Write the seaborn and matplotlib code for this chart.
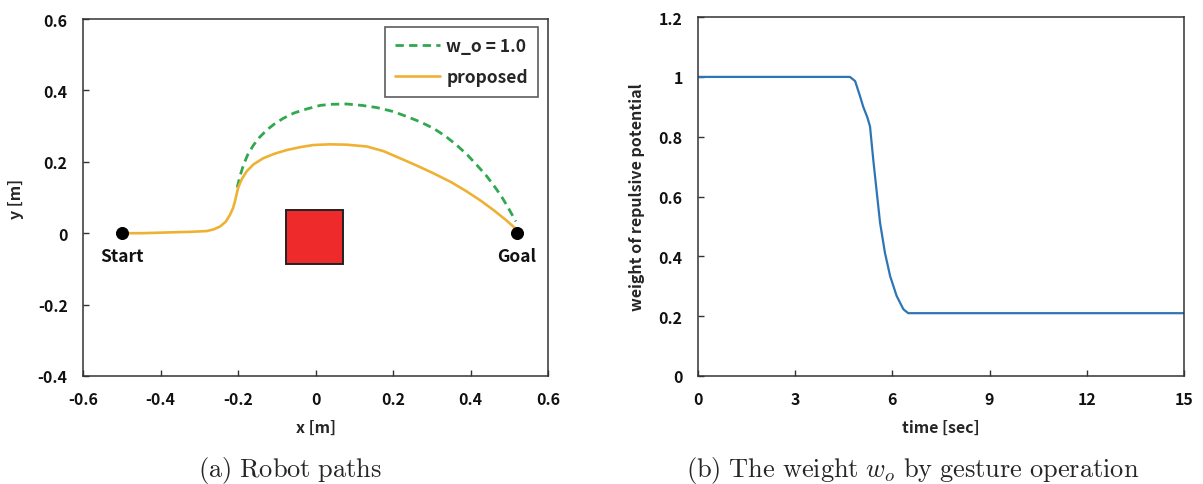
import matplotlib
matplotlib.use("Agg")
import matplotlib.pyplot as plt
import seaborn as sns
import pandas as pd
from matplotlib.patches import Rectangle

# ---------------- data ----------------
prop_x = [-0.50, -0.45, -0.384, -0.32, -0.281, -0.262, -0.246, -0.232, -0.221, -0.213, -0.208, -0.204,
          -0.200, -0.195, -0.190, -0.178, -0.160, -0.135, -0.105, -0.074, -0.040, -0.006, 0.037, 0.080,
          0.132, 0.175, 0.218, 0.260, 0.304, 0.350, 0.390, 0.425, 0.459, 0.490, 0.510, 0.520]
prop_y = [0.000, 0.000, 0.002, 0.004, 0.006, 0.011, 0.019, 0.032, 0.051, 0.070, 0.089, 0.108,
          0.126, 0.140, 0.152, 0.173, 0.193, 0.210, 0.223, 0.233, 0.241, 0.247, 0.249, 0.248,
          0.243, 0.230, 0.210, 0.190, 0.168, 0.143, 0.117, 0.092, 0.065, 0.038, 0.019, 0.008]

wo_x = [-0.202, -0.195, -0.186, -0.175, -0.160, -0.145, -0.126, -0.105, -0.083, -0.055, -0.023, 0.012,
        0.037, 0.080, 0.120, 0.158, 0.200, 0.235, 0.270, 0.304, 0.335, 0.364, 0.392, 0.416,
        0.440, 0.459, 0.478, 0.493, 0.506, 0.517]
wo_y = [0.128, 0.160, 0.191, 0.220, 0.247, 0.268, 0.289, 0.307, 0.322, 0.337, 0.348, 0.358,
        0.361, 0.362, 0.358, 0.352, 0.341, 0.327, 0.312, 0.294, 0.272, 0.247, 0.219, 0.191,
        0.162, 0.135, 0.106, 0.079, 0.054, 0.033]

point_names = ["Start", "Goal"]
point_x = [-0.50, 0.52]
point_y = [0.0, 0.0]

obstacle_x = [-0.075, 0.070]
obstacle_y = [-0.087, 0.065]

time_s = [0, 4.69, 4.85, 5.0, 5.1, 5.23, 5.31, 5.41, 5.52, 5.62, 5.77, 5.93, 6.13, 6.34, 6.49, 15]
weight = [1.0, 1.0, 0.986, 0.936, 0.90, 0.864, 0.834, 0.723, 0.612, 0.512, 0.412, 0.334, 0.268,
          0.223, 0.21, 0.21]

left_xticks = [-0.6, -0.4, -0.2, 0, 0.2, 0.4, 0.6]
left_xlabels = ["-0.6", "-0.4", "-0.2", "0", "0.2", "0.4", "0.6"]
left_yticks = [-0.4, -0.2, 0, 0.2, 0.4, 0.6]
left_ylabels = ["-0.4", "-0.2", "0", "0.2", "0.4", "0.6"]
right_xticks = [0, 3, 6, 9, 12, 15]
right_xlabels = ["0", "3", "6", "9", "12", "15"]
right_yticks = [0, 0.2, 0.4, 0.6, 0.8, 1.0, 1.2]
right_ylabels = ["0", "0.2", "0.4", "0.6", "0.8", "1", "1.2"]

legend_labels = ["w_o = 1.0", "proposed"]

# ---------------- style ----------------
sns.set_style("white")
plt.rcParams["font.family"] = ["Noto Sans CJK JP", "DejaVu Sans"]
plt.rcParams["mathtext.fontset"] = "cm"

FS = 11.5
GREEN = "#2FA84F"
ORANGE = "#EFB134"
BLUE = "#2E75B6"
RED = "#EE2A2A"

fig = plt.figure(figsize=(12.03, 4.85), dpi=100)
ax1 = fig.add_axes([0.0690, 0.2227, 0.3866, 0.7360])
ax2 = fig.add_axes([0.5802, 0.2227, 0.4040, 0.7400])

# ---------------- left panel ----------------
df_wo = pd.DataFrame({"x": wo_x, "y": wo_y})
df_pr = pd.DataFrame({"x": prop_x, "y": prop_y})
sns.lineplot(data=df_wo, x="x", y="y", sort=False, ax=ax1, color=GREEN, lw=2.0,
             label=legend_labels[0], estimator=None)
ax1.lines[-1].set_dashes((3.0, 1.9))
sns.lineplot(data=df_pr, x="x", y="y", sort=False, ax=ax1, color=ORANGE, lw=1.9,
             label=legend_labels[1], estimator=None)

ax1.add_patch(Rectangle((obstacle_x[0], obstacle_y[0]), obstacle_x[1] - obstacle_x[0],
                        obstacle_y[1] - obstacle_y[0], facecolor=RED, edgecolor="#222222",
                        lw=1.4, zorder=3))

df_pts = pd.DataFrame({"x": point_x, "y": point_y})
sns.scatterplot(data=df_pts, x="x", y="y", ax=ax1, color="black", s=75, zorder=5,
                edgecolor="black", legend=False)
for name, px, py in zip(point_names, point_x, point_y):
    ax1.text(px, py - 0.065, name, ha="center", va="center", fontsize=FS + 1,
             fontweight="bold", color="#111111")

ax1.set_xlim(-0.6, 0.6)
ax1.set_ylim(-0.4, 0.6)
ax1.set_xticks(left_xticks, labels=left_xlabels)
ax1.set_yticks(left_yticks, labels=left_ylabels)
ax1.set_xlabel("x [m]", fontsize=FS, fontweight="bold", labelpad=8)
ax1.set_ylabel("y [m]", fontsize=FS, fontweight="bold", labelpad=10)

leg = ax1.legend(loc="upper right", bbox_to_anchor=(0.99, 0.993), frameon=True, fancybox=False,
                 edgecolor="#333333", handlelength=2.6, handletextpad=0.35,
                 labelspacing=0.75, borderpad=0.6, borderaxespad=0.3,
                 prop={"weight": "bold", "size": 12.5})
leg.get_frame().set_linewidth(1.2)

# ---------------- right panel ----------------
df_w = pd.DataFrame({"t": time_s, "w": weight})
sns.lineplot(data=df_w, x="t", y="w", ax=ax2, color=BLUE, lw=1.6, estimator=None)
ax2.set_xlim(0, 15)
ax2.set_ylim(0, 1.2)
ax2.set_xticks(right_xticks, labels=right_xlabels)
ax2.set_yticks(right_yticks, labels=right_ylabels)
ax2.set_xlabel("time [sec]", fontsize=FS, fontweight="bold", labelpad=8)
ax2.set_ylabel("weight of repulsive potential", fontsize=FS, fontweight="bold", labelpad=10)

for ax in (ax1, ax2):
    for s in ax.spines.values():
        s.set_visible(True)
        s.set_color("#333333")
        s.set_linewidth(1.1)
    ax.tick_params(direction="in", length=4, width=1, color="#333333", pad=11,
                   labelsize=FS, left=True, bottom=True)
    for lab in ax.get_xticklabels() + ax.get_yticklabels():
        lab.set_fontweight("bold")
        lab.set_color("#111111")

# ---------------- captions ----------------
fig.text(290 / 1203, 1 - 471 / 485, r"$\mathrm{(a)\ Robot\ paths}$", ha="center", va="center",
         fontsize=19)
fig.text(913 / 1203, 1 - 471 / 485, r"$\mathrm{(b)\ The\ weight}\ w_o\ \mathrm{by\ gesture\ operation}$",
         ha="center", va="center", fontsize=19)

fig.savefig("out.png", dpi=100)
